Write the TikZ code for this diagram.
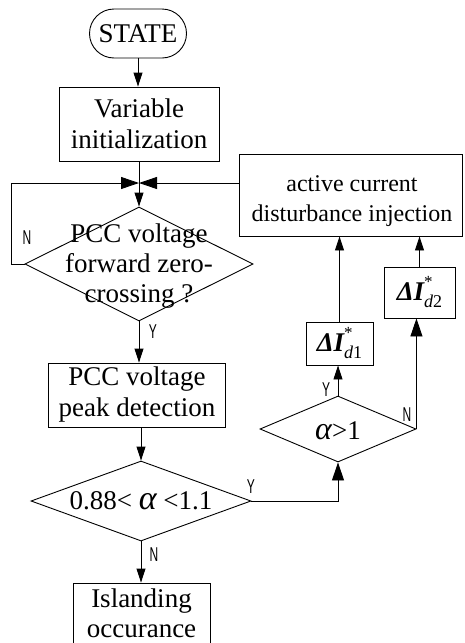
\documentclass[tikz,border=0pt]{standalone}
\usepackage{fontspec}
\setmainfont{Liberation Serif}
\newfontfamily\lblfont{Liberation Sans}
\usetikzlibrary{arrows.meta,shapes.geometric,calc}
\newcommand\ynlab[1]{\scalebox{0.6}[1]{#1}}
\newcommand\dIsym[1]{{\bfseries\itshape ΔI}\rlap{\raisebox{13pt}{\fontsize{17}{17}\selectfont *}}\raisebox{-7pt}{\fontsize{18}{18}\selectfont\itshape d\upshape #1}}
\begin{document}
\begin{tikzpicture}[x=1pt,y=-1pt,
  line width=0.9pt,
  box/.style={draw, inner sep=0pt, align=center, font=\fontsize{27}{31}\selectfont},
  dia/.style={draw, diamond, inner sep=0pt},
  txt/.style={inner sep=0pt, align=center, font=\fontsize{27}{30}\selectfont},
  yn/.style={inner sep=0pt, font=\lblfont\fontsize{20}{20}\selectfont},
  arr/.style={-{Triangle[length=14pt,width=9pt]}},
  bigarr/.style={-{Triangle[length=18pt,width=12pt]}},
]
\useasboundingbox (0,0) rectangle (464,643);
% nodes
\node[box, rounded corners=24.5pt, minimum width=97pt, minimum height=49pt] (start) at (138,33.5) {STATE};
\node[box, minimum width=160pt, minimum height=74pt] (init) at (139,124) {Variable\\initialization};
\coordinate (J) at (139,183);
\node[dia, minimum width=228pt, minimum height=114pt] (d1) at (139,264) {};
\node[txt] (d1t) at (139,266) {PCC voltage\\forward zero-\\crossing ?};
\node[box, minimum width=177pt, minimum height=64pt] (pcc) at (137,395) {PCC voltage\\peak detection};
\node[dia, minimum width=220pt, minimum height=80pt] (d2) at (141,501) {};
\node[txt] (d2t) at (141,501) {0.88< {\itshape\fontsize{34}{34}\selectfont α} <1.1};
\node[box, minimum width=137pt, minimum height=70pt] (isl) at (141.5,618) {};
\node[txt] (islt) at (141.5,613) {Islanding\\occurance};
\node[dia, minimum width=156pt, minimum height=66pt] (d3) at (338,429) {};
\node[txt] (d3t) at (338,431) {{\itshape\fontsize{32}{32}\selectfont α}>1};
\node[box, minimum width=67pt, minimum height=43pt] (dI1) at (339.5,343.5) {\dIsym{1}};
\node[box, minimum width=71pt, minimum height=51pt] (dI2) at (419.5,292.5) {\dIsym{2}};
\node[box, minimum width=223pt, minimum height=82pt] (act) at (350.5,195) {};
\node[txt, font=\fontsize{24}{30}\selectfont] (actt) at (352,201) {active current\\disturbance injection};
% connectors
\draw[arr] (start.south) -- (start.south |- init.north);
\draw (init.south) -- (J);
\draw[arr] (J) -- (d1.north);
\draw[bigarr] (d1.west) -- ++(-13,0) |- (J);
\draw[bigarr] (act.west |- J) -- (J);
\draw[arr] (d1.south) -- (d1.south |- pcc.north);
\draw[arr] (d2.north |- pcc.south) -- (d2.north);
\draw[arr] (d2.south) -- (d2.south |- isl.north);
\draw[bigarr] (d2.east) -| (d3.south);
\draw[arr] (d3.north) -- (d3.north |- dI1.south);
\draw[arr] (dI1.north) -- (dI1.north |- act.south);
\draw[bigarr] (d3.east) -- (d3.east |- dI2.south);
\draw[arr] (dI2.north) -- (dI2.north |- act.south);
% labels
\node[yn] (lN1) at (27,238) {\ynlab{N}};
\node[yn] (lY1) at (153,332) {\ynlab{Y}};
\node[yn] (lY2) at (251,487) {\ynlab{Y}};
\node[yn] (lN2) at (154,555) {\ynlab{N}};
\node[yn] (lY3) at (326,390) {\ynlab{Y}};
\node[yn] (lN3) at (407,415) {\ynlab{N}};
\end{tikzpicture}
\end{document}
